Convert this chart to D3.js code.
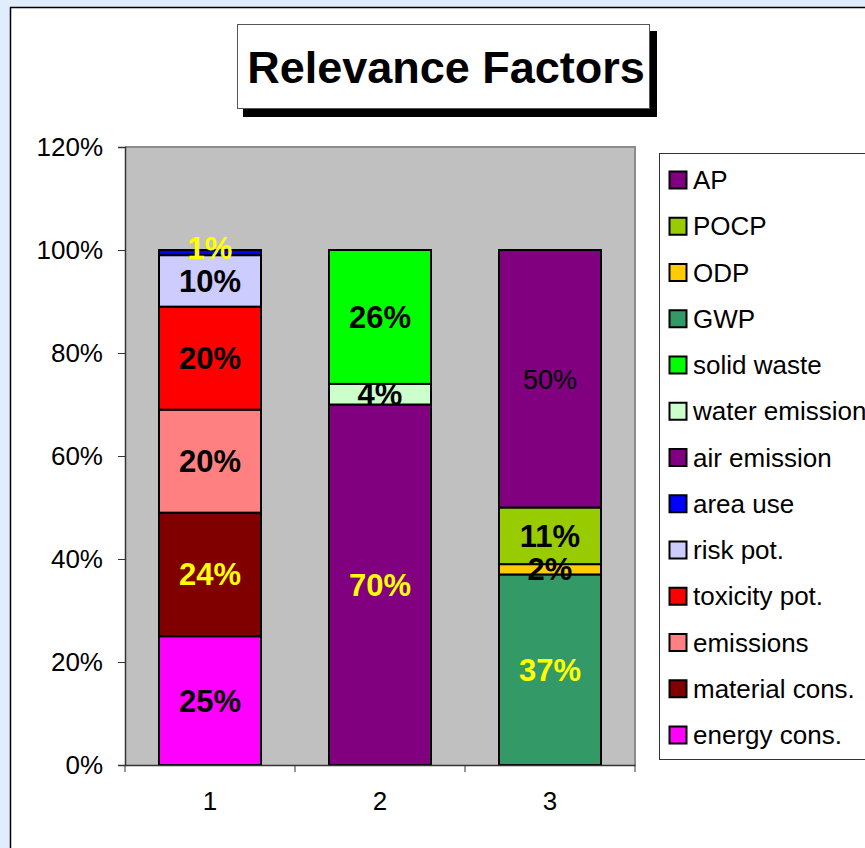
<!DOCTYPE html>
<html>
<head>
<meta charset="utf-8">
<script src="https://cdn.jsdelivr.net/npm/d3@7"></script>
<style>
  body { margin: 0; background: #dfedfc; }
  svg { display: block; font-family: Arial, "Liberation Sans", sans-serif; }
</style>
</head>
<body>
<div id="chart"></div>
<script>
// categories on the x axis
var categories = ["1", "2", "3"];

// series, bottom of the stack first
var seriesNames = ["energy cons.", "material cons.", "emissions", "toxicity pot.", "risk pot.",
                   "area use", "air emission", "water emission", "solid waste",
                   "GWP", "ODP", "POCP", "AP"];
var seriesColors = ["#ff00ff", "#800000", "#ff8080", "#ff0000", "#ccccff",
                    "#0000ff", "#800080", "#ccffcc", "#00ff00",
                    "#339966", "#ffcc00", "#99cc00", "#800080"];
// values per category (percent), same order as seriesNames
var values1 = [25, 24, 20, 20, 10, 1, 0, 0, 0, 0, 0, 0, 0];
var values2 = [0, 0, 0, 0, 0, 0, 70, 4, 26, 0, 0, 0, 0];
var values3 = [0, 0, 0, 0, 0, 0, 0, 0, 0, 37, 2, 11, 50];
var allValues = [values1, values2, values3];

// label colours per series (yellow for dark segments in the original)
var labelColors = ["black", "#ffff00", "black", "black", "black",
                   "#ffff00", "#ffff00", "black", "black",
                   "#ffff00", "black", "black", "black"];

var yTicks = [0, 20, 40, 60, 80, 100, 120];

var W = 865, H = 848;
var plot = {left: 125, right: 635, top: 147, bottom: 765};

var svg = d3.select("#chart").append("svg")
  .attr("width", W).attr("height", H);

// white chart area with frame
svg.append("rect")
  .attr("x", 10.5).attr("y", 7.5)
  .attr("width", W + 10).attr("height", H + 10)
  .attr("fill", "white").attr("stroke", "black").attr("stroke-width", 1.5);

// title box with shadow
svg.append("rect").attr("x", 243).attr("y", 31).attr("width", 414).attr("height", 86).attr("fill", "black");
svg.append("rect").attr("x", 237.5).attr("y", 24.5).attr("width", 412).attr("height", 84)
  .attr("fill", "white").attr("stroke", "#555").attr("stroke-width", 1);
svg.append("text")
  .attr("x", 446).attr("y", 83)
  .attr("text-anchor", "middle")
  .style("font-size", "45px").style("font-weight", "bold")
  .text("Relevance Factors");

var x = d3.scaleBand().domain(categories).range([plot.left, plot.right]).paddingInner(0.4).paddingOuter(0.2);
var xOuter = d3.scaleBand().domain(categories).range([plot.left, plot.right]);
var y = d3.scaleLinear().domain([0, 120]).range([plot.bottom, plot.top]);

// plot background
svg.append("rect")
  .attr("x", plot.left).attr("y", plot.top)
  .attr("width", plot.right - plot.left).attr("height", plot.bottom - plot.top)
  .attr("fill", "#c0c0c0");
svg.append("path")
  .attr("d", "M" + plot.left + "," + plot.top + "H" + plot.right + "V" + plot.bottom)
  .attr("fill", "none").attr("stroke", "#8c8c8c").attr("stroke-width", 2);

// stack data
var stacked = allValues.map(function(vals, ci) {
  var acc = 0;
  return vals.map(function(v, si) {
    var d = {cat: categories[ci], series: si, value: v, y0: acc, y1: acc + v};
    acc += v;
    return d;
  }).filter(function(d) { return d.value > 0; });
});

var barG = svg.append("g");
stacked.forEach(function(segs) {
  barG.selectAll(null)
    .data(segs)
    .enter()
    .append("rect")
    .attr("x", function(d) { return x(d.cat); })
    .attr("width", x.bandwidth())
    .attr("y", function(d) { return y(d.y1); })
    .attr("height", function(d) { return y(d.y0) - y(d.y1); })
    .attr("fill", function(d) { return seriesColors[d.series]; })
    .attr("stroke", "black")
    .attr("stroke-width", 2);
});

// segment labels
stacked.forEach(function(segs) {
  barG.selectAll(null)
    .data(segs)
    .enter()
    .append("text")
    .attr("x", function(d) { return x(d.cat) + x.bandwidth() / 2; })
    .attr("y", function(d) {
      // AP label sits near the top of its segment in the original
      if (seriesNames[d.series] == "AP") return y(d.y1) + 139;
      // thin area use slice: lift label a bit so it does not hit 10%
      if (seriesNames[d.series] == "area use") return y(d.y1) + 9;
      return (y(d.y0) + y(d.y1)) / 2 + 11;
    })
    .attr("text-anchor", "middle")
    .attr("fill", function(d) { return labelColors[d.series]; })
    .style("font-size", function(d) { return seriesNames[d.series] == "AP" ? "27px" : "31px"; })
    .style("font-weight", function(d) { return seriesNames[d.series] == "AP" ? "normal" : "bold"; })
    .text(function(d) { return d.value + "%"; });
});

// y axis
var yAxis = svg.append("g")
  .attr("transform", "translate(" + plot.left + ",0)")
  .call(d3.axisLeft(y).tickValues(yTicks).tickSize(7).tickPadding(15)
    .tickFormat(function(d) { return d + "%"; }));
yAxis.select(".domain").attr("stroke", "#333").attr("stroke-width", 1.5);
yAxis.selectAll(".tick line").attr("stroke", "#333");
yAxis.selectAll("text").style("font-size", "26px").attr("fill", "black")
  .style("font-family", "Arial, 'Liberation Sans', sans-serif");

// x axis
var xAxis = svg.append("g")
  .attr("transform", "translate(0," + plot.bottom + ")")
  .call(d3.axisBottom(xOuter).tickSize(0).tickPadding(27));
xAxis.select(".domain").attr("stroke", "#333").attr("stroke-width", 1.5);
xAxis.selectAll("text").style("font-size", "26px").attr("fill", "black")
  .style("font-family", "Arial, 'Liberation Sans', sans-serif");
// tick marks on band boundaries
var bounds = categories.map(function(c) { return xOuter(c); }).concat([plot.right]);
xAxis.selectAll(".bound")
  .data(bounds)
  .enter()
  .append("line")
  .attr("x1", function(d) { return d; }).attr("x2", function(d) { return d; })
  .attr("y1", 0).attr("y2", 7)
  .attr("stroke", "#333");

// legend, top entry is the last series
var legendOrder = seriesNames.map(function(n, i) { return i; }).reverse();
var legend = svg.append("g");
legend.append("rect")
  .attr("x", 659.5).attr("y", 153.5)
  .attr("width", 230).attr("height", 606)
  .attr("fill", "white").attr("stroke", "#333").attr("stroke-width", 1);
var ly = d3.scalePoint().domain(legendOrder).range([180, 735]);
var items = legend.selectAll(".item")
  .data(legendOrder)
  .enter()
  .append("g")
  .attr("transform", function(d) { return "translate(669," + ly(d) + ")"; });
items.append("rect")
  .attr("x", 0.5).attr("y", -8.5)
  .attr("width", 17).attr("height", 17)
  .attr("fill", function(d) { return seriesColors[d]; })
  .attr("stroke", "black").attr("stroke-width", 2);
items.append("text")
  .attr("x", 24).attr("y", 9)
  .style("font-size", "26px")
  .text(function(d) { return seriesNames[d]; });
</script>
</body>
</html>
